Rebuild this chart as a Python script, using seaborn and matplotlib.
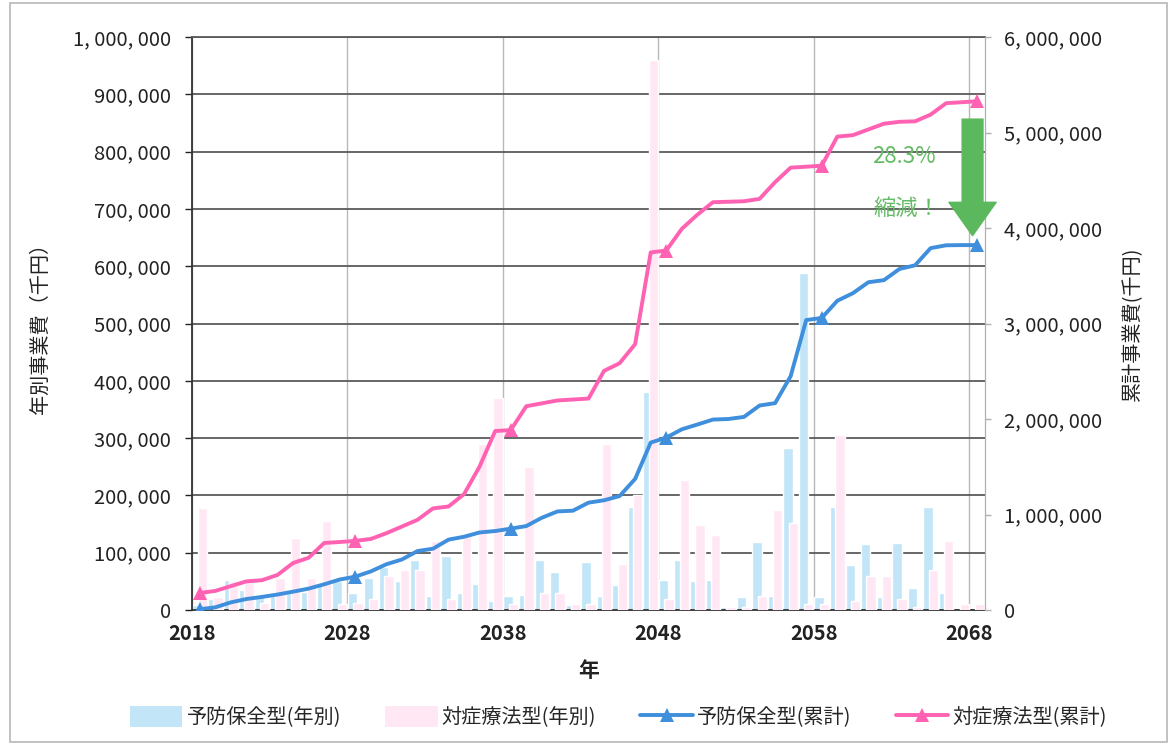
import numpy as np
import pandas as pd
import matplotlib
matplotlib.use('Agg')
import matplotlib.pyplot as plt
import seaborn as sns
from matplotlib.patches import Patch, Rectangle
from matplotlib.lines import Line2D
from matplotlib.ticker import FuncFormatter, MultipleLocator

sns.set_style('white')
plt.rcParams['font.family'] = ['Noto Sans CJK JP', 'DejaVu Sans']

years = np.arange(2018, 2069)

# annual cost (thousand yen)
prev_year = [8, 20, 52, 35, 22, 25, 30, 32, 45, 50, 30,
             55, 75, 50, 88, 25, 95, 30, 45, 15, 25,
             27, 87, 66, 8, 84, 25, 44, 180, 380, 52,
             87, 50, 52, 6, 22, 119, 25, 282, 588, 22,
             180, 79, 115, 22, 117, 38, 180, 30, 2, 0]
symp_year = [178, 22, 50, 50, 12, 55, 125, 55, 155, 10, 12,
             20, 60, 70, 70, 120, 20, 130, 290, 370, 10,
             250, 30, 30, 10, 10, 290, 80, 200, 960, 20,
             227, 148, 131, 5, 5, 25, 175, 152, 10, 10,
             305, 15, 60, 60, 20, 5, 70, 120, 10, 10]

# cumulative cost (thousand yen)
prev_cum = [8, 28, 80, 115, 137, 162, 192, 224, 269, 319, 349,
            404, 479, 529, 617, 642, 737, 767, 812, 827, 852,
            879, 966, 1032, 1040, 1124, 1149, 1193, 1373, 1753, 1805,
            1892, 1942, 1994, 2000, 2022, 2141, 2166, 2448, 3036, 3058,
            3238, 3317, 3432, 3454, 3571, 3609, 3789, 3819, 3821, 3821]
symp_cum = [178, 200, 250, 300, 312, 367, 492, 547, 702, 712, 724,
            744, 804, 874, 944, 1064, 1084, 1214, 1504, 1874, 1884,
            2134, 2164, 2194, 2204, 2214, 2504, 2584, 2784, 3744, 3764,
            3991, 4139, 4270, 4275, 4280, 4305, 4480, 4632, 4642, 4652,
            4957, 4972, 5032, 5092, 5112, 5117, 5187, 5307, 5317, 5327]

labels = ['予防保全型(年別)', '対症療法型(年別)', '予防保全型(累計)', '対症療法型(累計)']

c_prev_bar = '#c2e5f7'
c_symp_bar = '#ffe8f4'
c_prev_line = '#3f8fdc'
c_symp_line = '#ff62b2'

df = pd.DataFrame({
    'year': years,
    'prev_year': np.array(prev_year) * 1000,
    'symp_year': np.array(symp_year) * 1000,
    'prev_cum': np.array(prev_cum) * 1000,
    'symp_cum': np.array(symp_cum) * 1000,
})
df['xc'] = df['year'] + 0.5

fig = plt.figure(figsize=(11.71, 7.45), dpi=100)
ax = fig.add_axes([192/1171, 1-610/745, (985-192)/1171, (610-37)/745])

# bars
sns.barplot(data=df.assign(xb=df['xc'] - 0.17), x='xb', y='prev_year', ax=ax,
            native_scale=True, color=c_prev_bar, width=0.6, errorbar=None,
            saturation=1, zorder=2)
sns.barplot(data=df.assign(xb=df['xc'] + 0.17), x='xb', y='symp_year', ax=ax,
            native_scale=True, color=c_symp_bar, width=0.6, errorbar=None,
            saturation=1, zorder=3)

ax.set_xlim(2018, 2069)
ax.set_ylim(0, 1_000_000)
ax.yaxis.set_major_locator(MultipleLocator(100_000))
fmt = FuncFormatter(lambda v, p: f'{int(v):,}'.replace(',', ', '))
ax.yaxis.set_major_formatter(fmt)
ax.set_xticks(np.arange(2018, 2069, 10))
ax.set_xticklabels([str(y) for y in range(2018, 2069, 10)], fontweight='bold')
ax.set_axisbelow(True)
ax.grid(axis='y', color='#5a5a5a', lw=1.3)
for xv in range(2018, 2069, 10):
    ax.axvline(xv, color='#b8b8b8', lw=1.0, zorder=0.5)

ax.tick_params(axis='y', labelsize=14.5, colors='#222222', length=5, width=1, pad=10)
ax.tick_params(axis='x', labelsize=14.5, colors='#222222', length=5, width=1, pad=4)
ax.set_xlabel('年', fontsize=15, color='#222222', labelpad=12, fontweight='bold')
ax.set_ylabel('年別事業費（千円）', fontsize=14.5, color='#222222', labelpad=16)
ax.spines['top'].set_color('#5a5a5a')
ax.spines['top'].set_linewidth(1.3)
ax.spines['right'].set_color('#b0b0b0')
ax.spines['left'].set_color('#333333')
ax.spines['bottom'].set_color('#333333')
ax.spines['left'].set_linewidth(1.3)
ax.spines['bottom'].set_linewidth(1.3)

# cumulative lines on right axis
ax2 = ax.twinx()
sns.lineplot(data=df, x='xc', y='symp_cum', ax=ax2, color=c_symp_line, lw=2.8,
             marker='^', markersize=10, markevery=10, markeredgewidth=0)
sns.lineplot(data=df, x='xc', y='prev_cum', ax=ax2, color=c_prev_line, lw=2.8,
             marker='^', markersize=10, markevery=10, markeredgewidth=0)
ax2.set_ylim(0, 6_000_000)
ax2.yaxis.set_major_locator(MultipleLocator(1_000_000))
ax2.yaxis.set_major_formatter(fmt)
ax2.tick_params(axis='y', labelsize=14.5, colors='#222222', length=4, width=1, pad=10)
ax2.tick_params(axis='y', color='#b0b0b0')
ax2.set_ylabel('累計事業費(千円)', fontsize=14.5, color='#222222', labelpad=14)
ax2.set_xlim(2018, 2069)
for s in ax2.spines.values():
    s.set_visible(False)
ax2.spines['right'].set_visible(True)
ax2.spines['right'].set_color('#b0b0b0')

# reduction arrow and note
ax2.annotate('', xy=(2068.2, 3.92e6), xytext=(2068.2, 5.14e6),
             arrowprops=dict(arrowstyle='simple,head_width=1.7,head_length=1.2,tail_width=0.75',
                             color='#5cb85c', mutation_scale=20, shrinkA=0, shrinkB=0))
ax2.text(2063.8, 4.75e6, '28.3%', fontsize=16, color='#66bb66', ha='center', va='center')
ax2.text(2064.0, 4.2e6, '縮減！', fontsize=16, color='#66bb66', ha='center', va='center')

handles = [Patch(facecolor=c_prev_bar, edgecolor='none'),
           Patch(facecolor=c_symp_bar, edgecolor='none'),
           Line2D([0], [0], color=c_prev_line, lw=2.8, marker='^', markersize=10, markeredgewidth=0),
           Line2D([0], [0], color=c_symp_line, lw=2.8, marker='^', markersize=10, markeredgewidth=0)]
fig.legend(handles, labels, loc='center', bbox_to_anchor=(0.528, 1-717/745), ncol=4,
           frameon=False, fontsize=14.5, handlelength=2.6, handleheight=1.2,
           columnspacing=2.2, handletextpad=0.2)

fig.patches.append(Rectangle((10/1171, 3/745), 1157/1171, 739/745, transform=fig.transFigure,
                             fill=False, edgecolor='#b8b8b8', lw=1.2))

fig.savefig('out.png', dpi=100)
